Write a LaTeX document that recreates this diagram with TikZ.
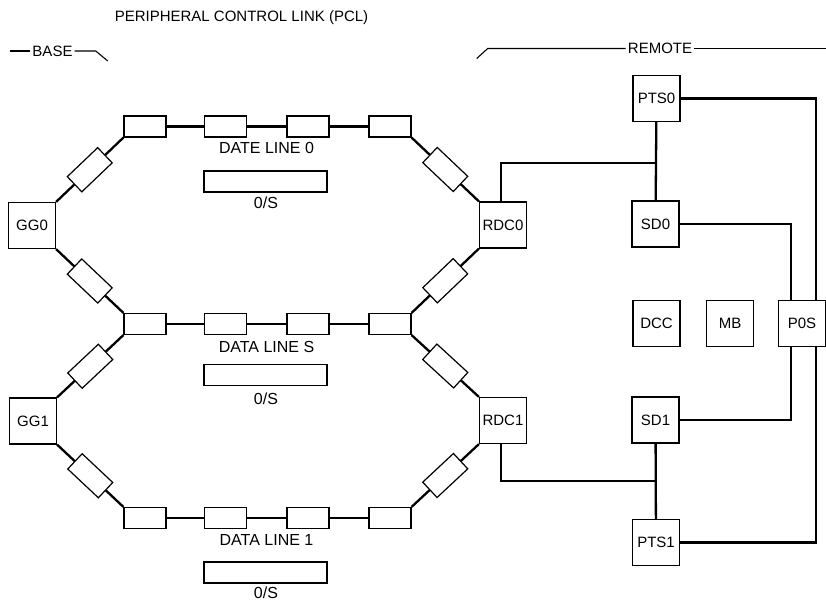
\documentclass[tikz,border=0pt]{standalone}
\usepackage{fontspec}
\setmainfont{Liberation Sans}
\usetikzlibrary{calc}

\begin{document}
\begin{tikzpicture}[
    x=1pt, y=-1pt,
    link/.style={line width=2.3pt},
    rule/.style={line width=1.1pt},
    unit/.style={
      draw, line width=1.2pt, fill=white,
      minimum width=47pt, minimum height=46pt, inner sep=0pt,
      font=\fontsize{15}{17}\selectfont
    },
    cell/.style={
      draw, line width=1.2pt, fill=white,
      minimum width=42pt, minimum height=21pt, inner sep=0pt
    },
    osbar/.style={draw, line width=1.2pt, minimum width=123pt, minimum height=21pt, inner sep=0pt},
    ringlabel/.style={font=\fontsize{16}{18}\selectfont, inner sep=1pt},
    zone/.style={font=\fontsize{15}{17}\selectfont, inner sep=2pt}
  ]
    \useasboundingbox (0,0) rectangle (826,601);

    % Heading and zone markers
    \node[zone] (pcl) at (241.5,18) {PERIPHERAL CONTROL LINK (PCL)};
    \node[zone] (base) at (52.5,51) {BASE};
    \draw[rule] (base.west) -- ++(-20,0);
    \draw[rule] (base.east) -- ++(21,0) -- ++(12,10);
    \node[zone] (remote) at (660,48.5) {REMOTE};
    \draw[rule] (remote.west) -- ++(-138,0) -- ++(-11,10);
    \draw[rule] (remote.east) -- ++(134,0);

    % Data line cells, one row per line
    \foreach \r/\y in {t/126.5, m/324, b/518} {
      \foreach \i/\x in {1/145, 2/225.5, 3/308, 4/390}
        \node[cell] (\r\i) at (\x,\y) {};
      \draw[link] (\r1) -- (\r2) -- (\r3) -- (\r4);
    }

    % Base and remote gateways
    \node[unit] (gg0) at (32,225.5) {GG0};
    \node[unit] (gg1) at (33,421) {GG1};
    \node[unit] (rdc0) at (503,225) {RDC0};
    \node[unit] (rdc1) at (503,420.5) {RDC1};

    % Slanted cells between gateways and rows
    \foreach \g/\a/\b in {gg0/t1/m1, gg1/m1/b1} {
      \draw[link] (\g.north east) -- node[cell, sloped] (\g-up) {} (\a.south west);
      \draw[link] (\g.south east) -- node[cell, sloped] (\g-dn) {} (\b.north west);
    }
    \foreach \g/\a/\b in {rdc0/t4/m4, rdc1/m4/b4} {
      \draw[link] (\g.north west) -- node[cell, sloped] (\g-up) {} (\a.south east);
      \draw[link] (\g.south west) -- node[cell, sloped] (\g-dn) {} (\b.north east);
    }

    % Line labels and O/S bars
    \foreach \n/\txt/\ly/\by/\oy in {0/DATE LINE 0/148/181.5/203, s/DATA LINE S/347/375/399, 1/DATA LINE 1/540/572.5/592.5} {
      \node[ringlabel] (line\n) at (266.5,\ly) {\txt};
      \node[osbar] (os\n) at (265.5,\by) {};
      \node[ringlabel] (oslabel\n) at (266,\oy) {0/S};
    }

    % Remote units
    \node[unit] (pts0) at (656.5,98.5) {PTS0};
    \node[unit] (sd0) at (655.5,224) {SD0};
    \node[unit] (dcc) at (656.5,323.5) {DCC};
    \node[unit] (mb) at (730,323.5) {MB};
    \node[unit] (pos) at (802,323.5) {P0S};
    \node[unit] (sd1) at (655.5,420) {SD1};
    \node[unit] (pts1) at (656,542.5) {PTS1};

    % Remote links
    \coordinate (j0) at ($(pts0.south)!0.52!(sd0.north)$);
    \coordinate (j1) at ($(sd1.south)!0.5!(pts1.north)$);
    \draw[link] (pts0) -- (sd0);
    \draw[link] ([xshift=-2pt]rdc0.north) |- (j0);
    \draw[link] (sd1) -- (pts1);
    \draw[link] ([xshift=-2pt]rdc1.south) |- (j1);
    \draw[link] (pts0.east) -| ([xshift=14pt]pos.north);
    \draw[link] (sd0.east) -| ([xshift=-11pt]pos.north);
    \draw[link] (sd1.east) -| ([xshift=-11pt]pos.south);
    \draw[link] (pts1.east) -| ([xshift=14pt]pos.south);
  \end{tikzpicture}
\end{document}
